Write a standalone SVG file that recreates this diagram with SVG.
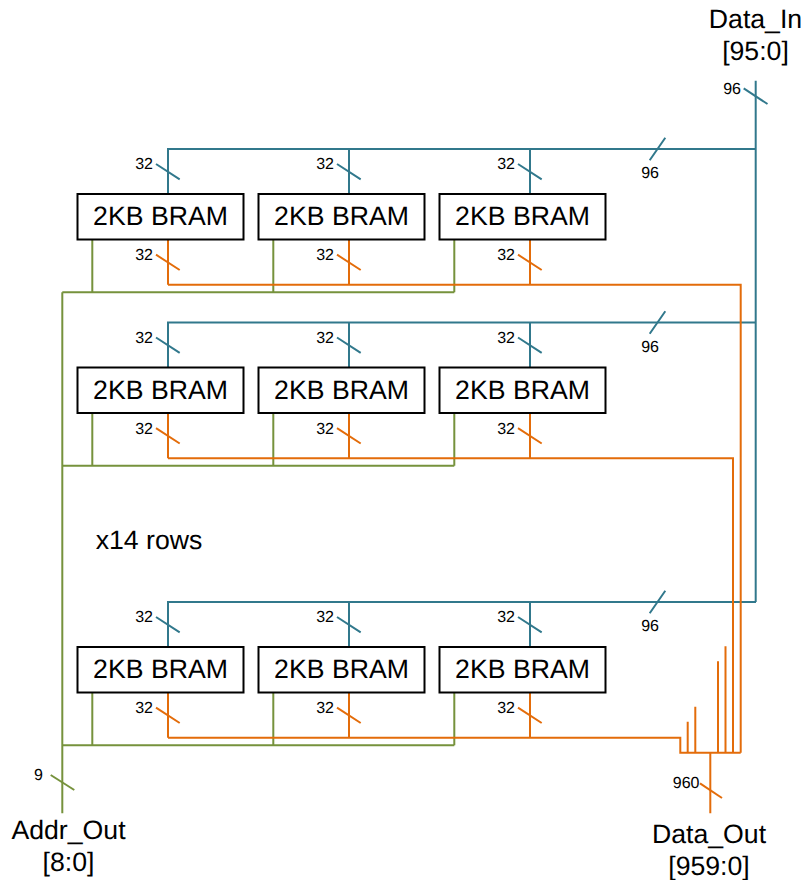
<svg xmlns="http://www.w3.org/2000/svg" width="804" height="880" viewBox="0 0 804 880">
<style>
text{font-family:"Liberation Sans",Arial,sans-serif;fill:#000;text-rendering:geometricPrecision}
.big{font-size:26.67px;text-anchor:middle}
.sm{font-size:16px;text-anchor:end}
.box{fill:#fff;stroke:#000;stroke-width:2}
.w{fill:none;stroke-width:2}
.t{stroke:#31788c}
.o{stroke:#e36c0a}
.g{stroke:#76923c}
</style>
<defs>
<g id="rowwires">
<path class="w t" d="M168 194V149H756M349 194V149M530 194V149"/>
<path class="w t" d="M156 164L179.7 179.3M337 164L360.7 179.3M518 164L541.7 179.3M665.3 137.7L649.7 160.3"/>
<path class="w o" d="M168 239V284.7M349 239V284.7M530 239V284.7"/>
<path class="w o" d="M156 254.7L179.7 270M337 254.7L360.7 270M518 254.7L541.7 270"/>
<path class="w g" d="M92.3 239V292.3M273.3 239V292.3M454.3 239V292.3M62.3 292.3H454.3"/>
<text class="sm" x="153" y="169">32</text><text class="sm" x="334" y="169">32</text><text class="sm" x="515" y="169">32</text>
<text class="sm" x="153" y="260">32</text><text class="sm" x="334" y="260">32</text><text class="sm" x="515" y="260">32</text>
<text class="sm" x="659" y="178">96</text>
</g>
</defs>
<g id="connectors">
<use href="#rowwires"/>
<use href="#rowwires" y="173.500"/>
<use href="#rowwires" y="453"/>
<path class="w t" d="M755.700 80.700V602"/>
<path class="w t" d="M743.700 88.300L767.500 104"/>
<path class="w o" d="M168 284.700H740.700V752.700M168 458.200H733V752.700M168 737.700H680.300V752.700H740.700"/>
<path class="w o" d="M687.700 752.700V721.700M695.300 752.700V706.700M718 752.700V661.300M725.500 752.700V646.300M710.300 752.700V813.300"/>
<path class="w o" d="M700 783.300L722 798"/>
<path class="w g" d="M62.300 292.300V813.300"/>
<path class="w g" d="M50.700 775L74.300 790"/>
<text class="sm" x="741" y="94">96</text>
<text class="sm" x="699.500" y="788">960</text>
<text class="sm" x="43" y="780">9</text>
</g>
<g id="bram-1-1"><rect class="box" x="77.500" y="194" width="166" height="45.500"/><text class="big" x="160.500" y="225">2KB BRAM</text></g>
<g id="bram-1-2"><rect class="box" x="258.500" y="194" width="166" height="45.500"/><text class="big" x="341.500" y="225">2KB BRAM</text></g>
<g id="bram-1-3"><rect class="box" x="439.500" y="194" width="166" height="45.500"/><text class="big" x="522.500" y="225">2KB BRAM</text></g>
<g id="bram-2-1"><rect class="box" x="77.500" y="367.500" width="166" height="45.500"/><text class="big" x="160.500" y="398.500">2KB BRAM</text></g>
<g id="bram-2-2"><rect class="box" x="258.500" y="367.500" width="166" height="45.500"/><text class="big" x="341.500" y="398.500">2KB BRAM</text></g>
<g id="bram-2-3"><rect class="box" x="439.500" y="367.500" width="166" height="45.500"/><text class="big" x="522.500" y="398.500">2KB BRAM</text></g>
<g id="bram-3-1"><rect class="box" x="77.500" y="647" width="166" height="45.500"/><text class="big" x="160.500" y="678">2KB BRAM</text></g>
<g id="bram-3-2"><rect class="box" x="258.500" y="647" width="166" height="45.500"/><text class="big" x="341.500" y="678">2KB BRAM</text></g>
<g id="bram-3-3"><rect class="box" x="439.500" y="647" width="166" height="45.500"/><text class="big" x="522.500" y="678">2KB BRAM</text></g>
<g id="labels">
<text class="big" x="755.500" y="28">Data_In</text>
<text class="big" x="755.500" y="60">[95:0]</text>
<text class="big" x="68.500" y="839">Addr_Out</text>
<text class="big" x="68.500" y="871">[8:0]</text>
<text class="big" x="709" y="843">Data_Out</text>
<text class="big" x="709" y="875">[959:0]</text>
<text class="big" x="149" y="549">x14 rows</text>
</g>
</svg>
